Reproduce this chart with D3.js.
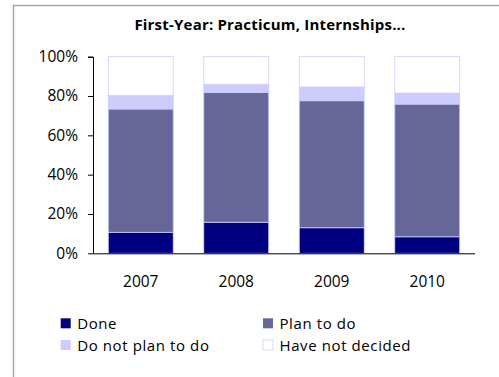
<!DOCTYPE html>
<html>
<head>
<meta charset="utf-8">
<script src="https://cdn.jsdelivr.net/npm/d3@7"></script>
<style>
  body { margin: 0; background: #fff; }
  text { font-family: "Open Sans", "Noto Sans", sans-serif; fill: #000; }
</style>
</head>
<body>
<div id="my_dataviz"></div>
<script>
// data
const years = ["2007", "2008", "2009", "2010"];
const done = [10.7, 15.8, 13.0, 8.4];
const planToDo = [62.7, 66.1, 64.6, 67.5];
const doNotPlan = [6.8, 4.1, 7.0, 5.6];
const notDecided = [19.8, 14.0, 15.4, 18.5];
const seriesNames = ["Done", "Plan to do", "Do not plan to do", "Have not decided"];
const colors = ["#000080", "#666699", "#ccccff", "#ffffff"];
const yTicks = [0, 20, 40, 60, 80, 100];

const W = 499, H = 377;
// plot area inside the frame
const margin = {top: 56.7, right: 24, bottom: 123.7, left: 93},
    width = W - margin.left - margin.right,
    height = H - margin.top - margin.bottom;

const root = d3.select("#my_dataviz")
  .append("svg")
    .attr("width", W)
    .attr("height", H);

// outer chart frame (runs off the right and bottom edge)
root.append("rect")
    .attr("x", 13.5).attr("y", 5.5)
    .attr("width", W).attr("height", H)
    .attr("fill", "none")
    .attr("stroke", "#a6a6a6")
    .attr("stroke-width", 1.5);

// title
root.append("text")
    .attr("x", 270).attr("y", 30)
    .attr("text-anchor", "middle")
    .style("font-size", "15px")
    .style("letter-spacing", "0.2px")
    .style("font-weight", "bold")
    .text("First-Year: Practicum, Internships...");

const svg = root.append("g")
    .attr("transform", `translate(${margin.left},${margin.top})`);

// scales
const x = d3.scaleBand().domain(years).range([0, width])
    .paddingInner(0.32).paddingOuter(0.16);
const y = d3.scaleLinear().domain([0, 100]).range([height, 0]);

// stacked table built from the arrays
const table = years.map((yr, i) => ({
  year: yr,
  "Done": done[i],
  "Plan to do": planToDo[i],
  "Do not plan to do": doNotPlan[i],
  "Have not decided": notDecided[i]
}));
const stacked = d3.stack().keys(seriesNames)(table);

svg.selectAll("g.layer")
  .data(stacked)
  .join("g")
    .attr("class", "layer")
    .attr("fill", (d, i) => colors[i])
  .selectAll("rect")
  .data(d => d)
  .join("rect")
    .attr("x", d => x(d.data.year))
    .attr("y", d => y(d[1]))
    .attr("width", x.bandwidth())
    .attr("height", d => y(d[0]) - y(d[1]))
    .attr("stroke", "#ccccff")
    .attr("stroke-width", 0.8);

// Y axis
const yAxis = svg.append("g")
    .call(d3.axisLeft(y).tickValues(yTicks).tickFormat(d => d + "%").tickSize(5).tickPadding(10));
yAxis.select(".domain").attr("stroke", "#000").attr("d", `M-5,0.5H0.5V${height}`);
yAxis.selectAll("text").style("font-size", "15.5px").style("font-family", "'Open Sans', sans-serif");

// X axis
const xAxis = svg.append("g")
    .attr("transform", `translate(0,${height})`)
    .call(d3.axisBottom(x).tickSize(0).tickPadding(23));
xAxis.select(".domain").attr("stroke", "#000").attr("d", `M0,0.5H${width}`);
xAxis.selectAll("text").style("font-size", "15.5px").style("font-family", "'Open Sans', sans-serif");

// legend, two columns
const legendX = [60.7, 263], legendY = [318.3, 340];
seriesNames.forEach((name, i) => {
  const lx = legendX[i % 2], ly = legendY[Math.floor(i / 2)];
  root.append("rect")
      .attr("x", lx).attr("y", ly)
      .attr("width", 10).attr("height", 10)
      .attr("fill", colors[i])
      .attr("stroke", i === 3 ? "#ccccff" : "none")
      .attr("stroke-width", 0.8);
  root.append("text")
      .attr("x", lx + 16.5).attr("y", ly + 10.5)
      .style("font-size", "15px")
      .style("letter-spacing", "0.6px")
      .text(name);
});
</script>
</body>
</html>
